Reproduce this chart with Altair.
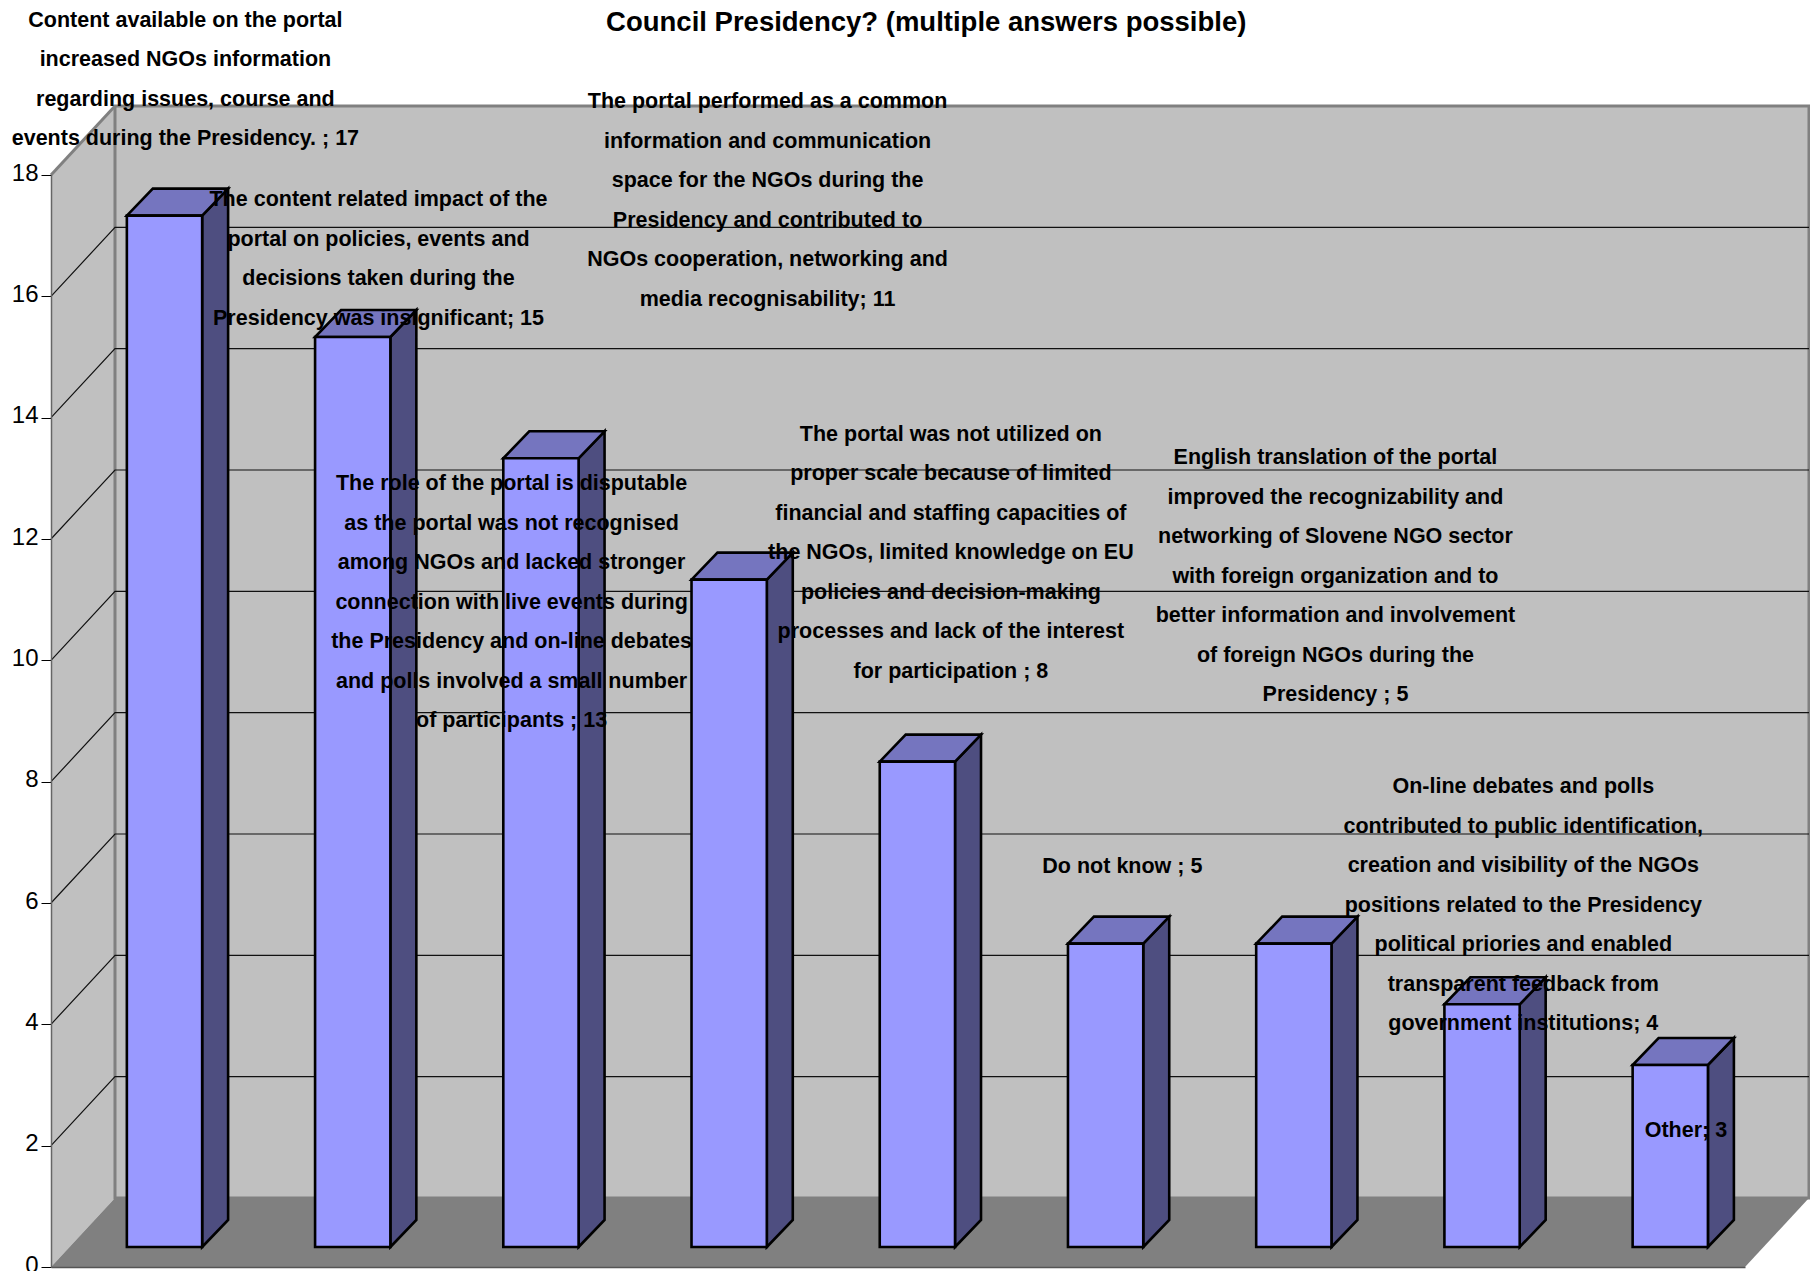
import altair as alt
import pandas as pd

TITLE = "Council Presidency? (multiple answers possible)"
VALUES = [17, 15, 13, 11, 8, 5, 5, 4, 3]
LABELS = [
    "Content available on the portal\nincreased NGOs information\nregarding issues, course and\nevents during the Presidency. ; 17",
    "The content related impact of the\nportal on policies, events and\ndecisions taken during the\nPresidency was insignificant; 15",
    "The role of the portal is disputable\nas the portal was not recognised\namong NGOs and lacked stronger\nconnection with live events during\nthe Presidency and on-line debates\nand polls involved a small number\nof participants ; 13",
    "The portal performed as a common\ninformation and communication\nspace for the NGOs during the\nPresidency and contributed to\nNGOs cooperation, networking and\nmedia recognisability; 11",
    "The portal was not utilized on\nproper scale because of limited\nfinancial and staffing capacities of\nthe NGOs, limited knowledge on EU\npolicies and decision-making\nprocesses and lack of the interest\nfor participation  ; 8",
    "Do not know ; 5",
    "English translation of the portal\nimproved the recognizability and\nnetworking of Slovene NGO sector\nwith foreign organization and to\nbetter information and involvement\nof foreign NGOs during the\nPresidency ; 5",
    "On-line debates and polls\ncontributed to public identification,\ncreation and visibility of the NGOs\npositions related to the Presidency\npolitical priories and enabled\ntransparent feedback from\ngovernment institutions; 4",
    "Other; 3",
]
LABEL_SLOT = [0.714, 1.740, 2.447, 3.807, 4.781, 5.692, 6.824, 7.822, 8.686]
LABEL_LEVEL = [20.54, 17.58, 12.90, 19.20, 13.72, 6.59, 13.33, 7.91, 2.25]
TITLE_SLOT, TITLE_LEVEL = 4.650, 20.50
TICKS = list(range(0, 19, 2))

N = len(VALUES)
YMAX = 18
WALL_DX, WALL_DY = 0.34, 1.137      # depth of the box, in slots / value units
BAR_X0, BAR_W = 0.403, 0.40         # bar front inside its slot
BAR_BASE = 0.33                     # bar base lifted by its position on the floor
BAR_DX, BAR_DY = 0.138, 0.445       # depth of a bar

FONT = "Liberation Sans"
xs = alt.Scale(domain=[0, N], nice=False, zero=False)
ys = alt.Scale(domain=[0, YMAX], nice=False, zero=False)
x_axis = alt.Axis(labels=False, ticks=False, grid=False, domainColor="#555555",
                  domainWidth=1.5, zindex=1)
y_axis = alt.Axis(values=TICKS, grid=False, tickSize=10, tickColor="#000000", tickWidth=1,
                  domainColor="#666666", domainWidth=1.5, labelFont=FONT, labelFontSize=24,
                  labelColor="#000000", labelPadding=3, labelFlush=False, labelOffset=-2, zindex=1)
X = alt.X("x:Q", scale=xs, title=None, axis=x_axis)
Y = alt.Y("y:Q", scale=ys, title=None, axis=y_axis)


def area(rows, **mark):
    """rows: (group, x, y_low, y_high)"""
    df = pd.DataFrame(rows, columns=["g", "x", "y", "y2"])
    return alt.Chart(df).mark_area(**mark).encode(X, Y, alt.Y2("y2:Q"), detail="g:N")


def segments(rows, **mark):
    df = pd.DataFrame(rows, columns=["g", "x", "y"])
    return alt.Chart(df).mark_line(**mark).encode(X, Y, detail="g:N")


back_wall = (
    alt.Chart(pd.DataFrame({"x": [WALL_DX], "x2": [N + WALL_DX], "y": [WALL_DY], "y2": [YMAX + WALL_DY]}))
    .mark_rect(fill="#c0c0c0", stroke="#808080", strokeWidth=3)
    .encode(X, alt.X2("x2:Q"), Y, alt.Y2("y2:Q"))
)
left_wall = area([("w", 0, 0, YMAX), ("w", WALL_DX, WALL_DY, YMAX + WALL_DY)], color="#c0c0c0")
left_top = segments([("t", 0, YMAX), ("t", WALL_DX, YMAX + WALL_DY)], color="#808080", strokeWidth=3)
floor = area(
    [("f", 0, 0, 0), ("f", WALL_DX, 0, WALL_DY), ("f", N, 0, WALL_DY), ("f", N + WALL_DX, WALL_DY, WALL_DY)],
    color="#808080",
)

grid_rows = []
for t in TICKS[1:-1]:
    grid_rows += [(t, 0, t), (t, WALL_DX, t + WALL_DY), (t, N + WALL_DX, t + WALL_DY)]
grid = segments(grid_rows, color="#111111", strokeWidth=1.2)

side_rows, top_rows, front_rows = [], [], []
for i, v in enumerate(VALUES):
    x0 = i + BAR_X0
    x1 = x0 + BAR_W
    t = BAR_BASE + v
    side_rows += [(i, x1, BAR_BASE, t), (i, x1 + BAR_DX, BAR_BASE + BAR_DY, t + BAR_DY)]
    top_rows += [
        (i, x0, t, t),
        (i, x0 + BAR_DX, t, t + BAR_DY),
        (i, x1, t, t + BAR_DY),
        (i, x1 + BAR_DX, t + BAR_DY, t + BAR_DY),
    ]
    front_rows.append({"x": x0, "x2": x1, "y": BAR_BASE, "y2": t})

stroke = dict(stroke="#000000", strokeWidth=2.6)
sides = area(side_rows, color="#4e4e80", **stroke)
tops = area(top_rows, color="#7575bf", **stroke)
fronts = (
    alt.Chart(pd.DataFrame(front_rows))
    .mark_rect(fill="#9999ff", **stroke)
    .encode(X, alt.X2("x2:Q"), Y, alt.Y2("y2:Q"))
)

texts = (
    alt.Chart(pd.DataFrame({"x": LABEL_SLOT, "y": LABEL_LEVEL, "t": LABELS}))
    .mark_text(font=FONT, fontWeight="bold", fontSize=21.5, lineBreak="\n", lineHeight=39.5,
               align="center", baseline="middle", color="#000000", clip=False)
    .encode(X, Y, text="t:N")
)
title_text = (
    alt.Chart(pd.DataFrame({"x": [TITLE_SLOT], "y": [TITLE_LEVEL], "t": [TITLE]}))
    .mark_text(font=FONT, fontWeight="bold", fontSize=27.5, align="center", baseline="middle",
               color="#000000", clip=False)
    .encode(X, Y, text="t:N")
)

chart = (
    alt.layer(left_wall, back_wall, left_top, grid, floor, sides, tops, fronts, texts, title_text)
    .properties(
        width=1694,
        height=1092,
        autosize=alt.AutoSizeParams(type="none", contains="content"),
        padding={"left": 43, "top": 167, "right": 65, "bottom": 4},
        background="#ffffff",
    )
    .configure_view(stroke=None)
)
chart.save("out.html", embed_options={"renderer": "svg", "actions": False})
